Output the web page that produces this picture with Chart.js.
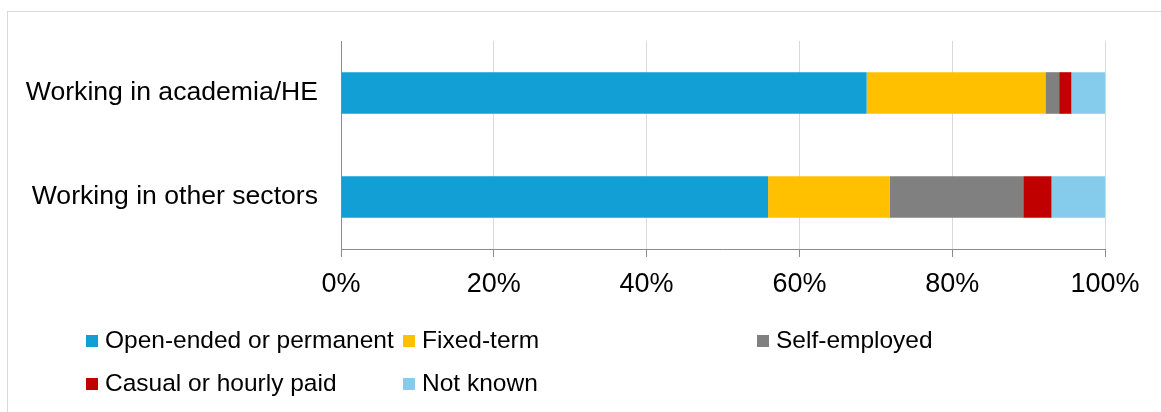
<!DOCTYPE html>
<html>
<head>
<meta charset="utf-8">
<script src="https://cdn.jsdelivr.net/npm/chart.js@4.4.1/dist/chart.umd.min.js"></script>
<style>
    html, body { margin: 0; padding: 0; background: #fff; }
    #wrap { position: relative; width: 1161px; height: 412px; overflow: hidden; }
    #frame { position: absolute; left: 7px; top: 11px; width: 1200px; height: 500px;
             border-top: 1px solid #d9d9d9; border-left: 1px solid #d9d9d9; }
    #contractChart { position: absolute; left: 0; top: 0; }
    .legend-item { position: absolute; font: 24.5px "Liberation Sans", Arial, sans-serif;
                   color: #000; white-space: nowrap; line-height: 1; }
    .legend-box { position: absolute; width: 12px; height: 12px; }
</style>
</head>
<body>
<div id="wrap">
    <div id="frame"></div>
    <canvas id="contractChart" width="1161" height="412"></canvas>
    <div id="legend"></div>
</div>
<script>
// Contract type by sector (% of respondents)
const categories = ['Working in academia/HE', 'Working in other sectors'];
const seriesNames = ['Open-ended or permanent', 'Fixed-term', 'Self-employed', 'Casual or hourly paid', 'Not known'];
const openEnded = [68.8, 55.9];
const fixedTerm = [23.4, 15.9];
const selfEmployed = [1.8, 17.5];
const casualHourly = [1.6, 3.7];
const notKnown = [4.4, 7.0];
const xTicks = [0, 20, 40, 60, 80, 100];

const seriesColors = ['#129fd6', '#ffc000', '#808080', '#c00000', '#85cbeb'];
const seriesValues = [openEnded, fixedTerm, selfEmployed, casualHourly, notKnown];
const fontFamily = '"Liberation Sans", Arial, sans-serif';

const chart = new Chart(document.getElementById('contractChart'), {
    type: 'bar',
    data: {
        labels: categories,
        datasets: seriesNames.map((name, i) => ({
            label: name,
            data: seriesValues[i],
            backgroundColor: seriesColors[i],
            borderWidth: 0,
            barPercentage: 0.4,
            categoryPercentage: 1
        }))
    },
    options: {
        indexAxis: 'y',
        responsive: false,
        animation: false,
        layout: { padding: { top: 41, right: 56, left: 0, bottom: 0 } },
        plugins: {
            legend: { display: false },
            tooltip: { enabled: false }
        },
        scales: {
            x: {
                stacked: true,
                min: 0,
                max: 100,
                afterBuildTicks: (scale) => {
                    scale.ticks = xTicks.map(v => ({ value: v }));
                },
                afterFit: (scale) => { scale.height = 163; },
                grid: { color: '#d9d9d9', lineWidth: 1, tickColor: '#8c8c8c', tickLength: 8 },
                border: { display: true, color: '#8c8c8c', width: 1 },
                ticks: {
                    padding: 11,
                    color: '#000',
                    font: { family: fontFamily, size: 27 },
                    callback: (value) => value + '%'
                }
            },
            y: {
                stacked: true,
                afterFit: (scale) => { scale.width = 341; },
                grid: { color: 'rgba(0,0,0,0)', drawTicks: false },
                border: { display: true, color: '#8c8c8c', width: 1 },
                ticks: {
                    padding: 23,
                    color: '#000',
                    font: { family: fontFamily, size: 26.6 }
                }
            }
        }
    }
});

// Legend laid out in two rows of three columns
const legendCols = [86, 403, 757];
const legendRows = [341, 384];
const legendEl = document.getElementById('legend');
chart.data.datasets.forEach((ds, i) => {
    const col = legendCols[i % 3];
    const row = legendRows[Math.floor(i / 3)];
    const box = document.createElement('div');
    box.className = 'legend-box';
    box.style.left = col + 'px';
    box.style.top = (row - 6) + 'px';
    box.style.background = ds.backgroundColor;
    legendEl.appendChild(box);
    const text = document.createElement('div');
    text.className = 'legend-item';
    text.textContent = ds.label;
    text.style.left = (col + 19) + 'px';
    text.style.top = (row - 13) + 'px';
    legendEl.appendChild(text);
});
</script>
</body>
</html>
